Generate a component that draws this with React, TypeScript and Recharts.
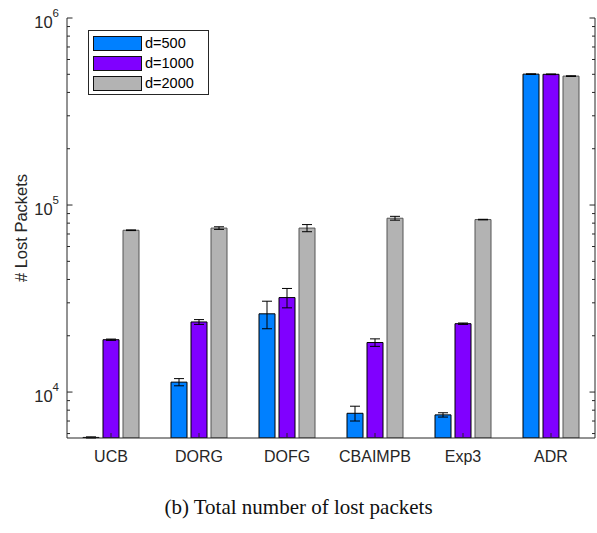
import {
  BarChart,
  Bar,
  XAxis,
  YAxis,
  ErrorBar,
  Legend,
} from "recharts";

// algorithms on the x axis
const categories = ["UCB", "DORG", "DOFG", "CBAIMPB", "Exp3", "ADR"];

// lost packets per setting
const d500 = [5720, 11300, 26200, 7700, 7550, 501000];
const d500Err = [40, 500, 4400, 700, 200, 2000];
const d1000 = [19050, 23700, 32000, 18400, 23200, 500000];
const d1000Err = [150, 700, 3800, 850, 200, 2000];
const d2000 = [73300, 75300, 75300, 85000, 83600, 489000];
const d2000Err = [300, 1200, 3300, 2000, 300, 2000];

const seriesNames = ["d=500", "d=1000", "d=2000"];

// y axis: log scale, major decades plus 2..9 minor ticks
const yMin = 5680;
const yMax = 1000000;
const yTicks = [
  6000, 7000, 8000, 9000,
  10000, 20000, 30000, 40000, 50000, 60000, 70000, 80000, 90000,
  100000, 200000, 300000, 400000, 500000, 600000, 700000, 800000, 900000,
  1000000,
];

const chartData = categories.map((name, i) => ({
  name,
  a: d500[i],
  aErr: d500Err[i],
  b: d1000[i],
  bErr: d1000Err[i],
  c: d2000[i],
  cErr: d2000Err[i],
}));

const axisColor = "#262626";
const font = "'Liberation Sans', Arial, Helvetica, sans-serif";

const isMajor = (v: number) => {
  const l = Math.log10(v);
  return Math.abs(l - Math.round(l)) < 1e-9;
};

const LeftTick = (props: any) => {
  const { x, y, payload } = props;
  const v = payload.value;
  const major = isMajor(v);
  return (
    <g>
      <line x1={x} x2={x + (major ? 5.5 : 3)} y1={y} y2={y} stroke={axisColor} />
      {major && (
        <text x={x - 8} y={y + 10} textAnchor="end" fill={axisColor} fontSize={16.5} fontFamily={font}>
          10
          <tspan dy={-11.5} fontSize={11.5}>
            {Math.round(Math.log10(v))}
          </tspan>
        </text>
      )}
    </g>
  );
};

const RightTick = (props: any) => {
  const { x, y, payload } = props;
  const major = isMajor(payload.value);
  return <line x1={x} x2={x - (major ? 5.5 : 3)} y1={y} y2={y} stroke={axisColor} />;
};

const BottomTick = (props: any) => {
  const { x, y, payload } = props;
  return (
    <g>
      <line x1={x} x2={x} y1={y} y2={y - 5} stroke={axisColor} />
      <text x={x} y={y + 24} textAnchor="middle" fill={axisColor} fontSize={16} fontFamily={font}>
        {payload.value}
      </text>
    </g>
  );
};

const TopTick = (props: any) => {
  const { x, y } = props;
  return <line x1={x} x2={x} y1={y} y2={y + 5} stroke={axisColor} />;
};

const YTitle = (props: any) => {
  const vb = props.viewBox;
  const cy = vb.y + vb.height / 2;
  return (
    <text
      x={27}
      y={cy}
      transform={`rotate(-90, 27, ${cy})`}
      textAnchor="middle"
      fill={axisColor}
      fontSize={16.5}
      fontFamily={font}
    >
      # Lost Packets
    </text>
  );
};

const LegendBox = (props: any) => {
  const items = [...(props.payload || [])].sort(
    (p: any, q: any) => seriesNames.indexOf(p.value) - seriesNames.indexOf(q.value)
  );
  return (
    <div
      style={{
        boxSizing: "border-box",
        width: 121,
        border: `1px solid ${axisColor}`,
        background: "#fff",
        padding: "2px 0 1px 4px",
        fontFamily: font,
      }}
    >
      {items.map((p: any) => (
        <div key={p.value} style={{ display: "flex", alignItems: "center", height: 20 }}>
          <span
            style={{
              boxSizing: "border-box",
              display: "inline-block",
              width: 49,
              height: 15,
              background: p.color,
              border: "1px solid #111",
            }}
          />
          <span style={{ marginLeft: 3, fontSize: 14.5, color: "#000" }}>{p.value}</span>
        </div>
      ))}
    </div>
  );
};

const App = () => {
  return (
    <div style={{ position: "absolute", left: 0, top: 0, width: 597, height: 533, background: "#fff" }}>
      <BarChart
        width={597}
        height={468}
        data={chartData}
        margin={{ top: 18, right: 0, bottom: 0, left: 0 }}
        barCategoryGap={16}
        barGap={4}
      >
        <XAxis
          dataKey="name"
          height={30}
          tickSize={0}
          tickMargin={0}
          tick={<BottomTick />}
          axisLine={{ stroke: axisColor }}
          tickLine={false}
          interval={0}
        />
        <XAxis
          xAxisId="top"
          dataKey="name"
          orientation="top"
          height={0}
          tickSize={0}
          tickMargin={0}
          tick={<TopTick />}
          axisLine={{ stroke: axisColor }}
          tickLine={false}
          interval={0}
        />
        <YAxis
          type="number"
          scale="log"
          domain={[yMin, yMax]}
          allowDataOverflow
          ticks={yTicks}
          interval={0}
          width={67}
          tickSize={0}
          tickMargin={0}
          tick={<LeftTick />}
          tickLine={false}
          axisLine={{ stroke: axisColor }}
          label={<YTitle />}
        />
        <YAxis
          yAxisId="right"
          orientation="right"
          type="number"
          scale="log"
          domain={[yMin, yMax]}
          allowDataOverflow
          ticks={yTicks}
          interval={0}
          width={2}
          tickSize={0}
          tickMargin={0}
          tick={<RightTick />}
          tickLine={false}
          axisLine={{ stroke: axisColor }}
        />
        <Legend
          layout="vertical"
          align="center"
          verticalAlign="middle"
          wrapperStyle={{ left: 88, top: 30, width: 121 }}
          content={<LegendBox />}
        />
        <Bar dataKey="a" name={seriesNames[0]} fill="#0080ff" stroke="#000" strokeWidth={1} isAnimationActive={false}>
          <ErrorBar dataKey="aErr" width={5} stroke="#000" strokeWidth={1} isAnimationActive={false} />
        </Bar>
        <Bar dataKey="b" name={seriesNames[1]} fill="#8000ff" stroke="#000" strokeWidth={1} isAnimationActive={false}>
          <ErrorBar dataKey="bErr" width={5} stroke="#000" strokeWidth={1} isAnimationActive={false} />
        </Bar>
        <Bar dataKey="c" name={seriesNames[2]} fill="#b3b3b3" stroke="#555" strokeWidth={1} isAnimationActive={false}>
          <ErrorBar dataKey="cErr" width={5} stroke="#000" strokeWidth={1} isAnimationActive={false} />
        </Bar>
      </BarChart>
      <div
        style={{
          position: "absolute",
          left: 0,
          top: 494,
          width: 597,
          textAlign: "center",
          fontFamily: "'Liberation Serif', 'Times New Roman', serif",
          fontSize: 21,
          lineHeight: "26px",
          color: "#111",
        }}
      >
        (b) Total number of lost packets
      </div>
    </div>
  );
};

export default App;
